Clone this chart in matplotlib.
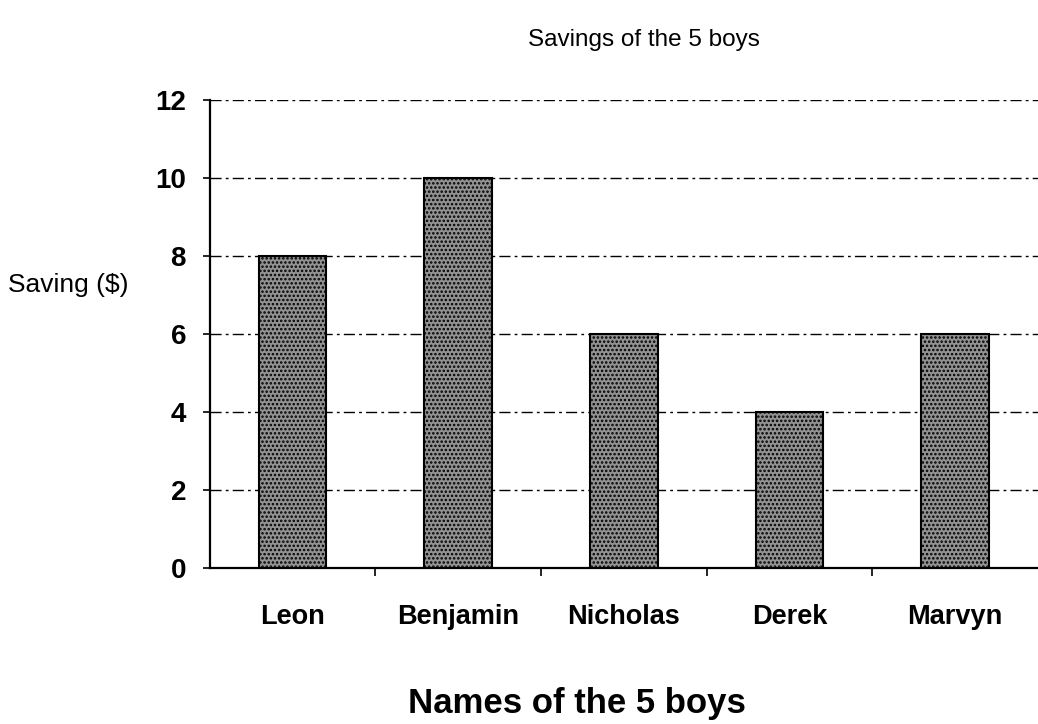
import matplotlib.pyplot as plt

names = ['Leon', 'Benjamin', 'Nicholas', 'Derek', 'Marvyn']
savings = [8, 10, 6, 4, 6]
yticks = [0, 2, 4, 6, 8, 10, 12]

plt.rcParams['font.family'] = ['Liberation Sans', 'DejaVu Sans']
plt.rcParams['hatch.color'] = '#333333'
plt.rcParams['hatch.linewidth'] = 1.2

fig = plt.figure(figsize=(10.38, 7.24), dpi=100)
ax = fig.add_axes([0.202, 0.216, 0.798, 0.646])

x = list(range(len(names)))
ax.bar(x, savings, width=0.41, color='#929292', edgecolor='black',
       linewidth=1.5, hatch='....', zorder=3)

ax.set_xlim(-0.5, 4.5)
ax.set_ylim(0, 12)
ax.set_yticks(yticks)
ax.set_xticks(x)
ax.set_xticklabels(names, fontsize=19.5, fontweight='bold')
ax.set_xticks([i + 0.5 for i in x[:-1]], minor=True)
ax.tick_params(axis='x', which='major', length=0, pad=26)
ax.tick_params(axis='x', which='minor', length=6, direction='out', width=1.2)
ax.tick_params(axis='y', labelsize=20, length=5, width=1.2, pad=12)
for lbl in ax.get_yticklabels():
    lbl.set_fontweight('bold')

ax.grid(axis='y', linestyle=(0, (8, 3, 2, 3)), color='black', linewidth=1.0, zorder=0)

for s in ['top', 'right']:
    ax.spines[s].set_visible(False)
ax.spines['left'].set_linewidth(1.6)
ax.spines['bottom'].set_linewidth(1.6)

fig.text(0.62, 0.945, 'Savings of the 5 boys', ha='center', va='center', fontsize=17.5)
fig.text(0.008, 0.606, 'Saving ($)', ha='left', va='center', fontsize=19)
fig.text(0.556, 0.029, 'Names of the 5 boys', ha='center', va='center',
         fontsize=25, fontweight='bold')

fig.savefig('out.png', dpi=100)
